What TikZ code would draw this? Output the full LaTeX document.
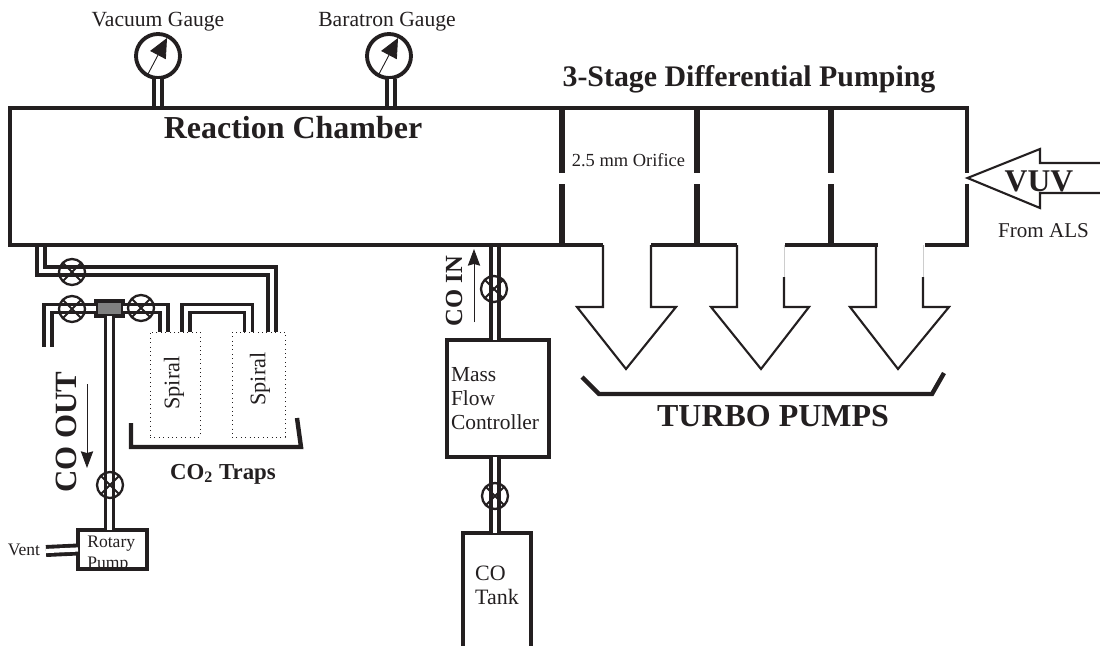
\documentclass[tikz,border=0pt]{standalone}
\usepackage{fontspec}
\setmainfont{Liberation Serif}
\usetikzlibrary{arrows.meta, positioning, calc}
\definecolor{cInk}{RGB}{35,31,32}
\definecolor{cBlock}{RGB}{128,128,128}
\definecolor{cFaint}{RGB}{205,205,205}
\tikzset{
  wall/.style={draw=cInk, line width=2.5pt},
  divider/.style={draw=cInk, line width=3.4pt},
  thinwall/.style={draw=cInk, line width=1.2pt},
  pipe/.style={draw=cInk, line width=2.2pt, double=white, double distance=2.4pt},
  %% boxes
  boxnode/.style={rectangle, draw=cInk, line width=2.5pt, inner sep=0pt, outer sep=0pt, align=left},
  spiralbox/.style={rectangle, draw=cInk, dotted, line width=0.5pt, inner sep=0pt, outer sep=0pt},
  %% valves and gauges
  valve/.style={circle, draw=cInk, line width=1.3pt, minimum size=0.52cm, inner sep=0pt, outer sep=0pt},
  gauge/.style={circle, draw=cInk, line width=2.2pt, minimum size=0.88cm, inner sep=0pt, outer sep=0pt},
  needle/.style={-{Triangle[length=11pt,width=10pt]}, draw=cInk, fill=cInk, line width=0.5pt},
  flowarrow/.style={-{Stealth[length=9.5pt,width=7pt,inset=1pt]}, draw=cInk, fill=cInk, line width=0.5pt},
  %% labels
  lbl/.style={text=cInk, font=\fontsize{12}{14}\selectfont, inner sep=0pt, align=left},
  boldlbl/.style={text=cInk, font=\fontsize{18.2}{21}\selectfont\bfseries, inner sep=0pt},
}
\begin{document}
\begin{tikzpicture}[x=0.02cm, y=-0.02cm]
\useasboundingbox (0,0) rectangle (1100,646);

%% ----- Pipes (drawn first, chamber goes over their ends) -----
\coordinate (outA) at (41,245);
\coordinate (outB) at (41,271);
\coordinate (outC) at (272,271);
\coordinate (inA)  at (495,245);

\node[spiralbox, minimum width=1cm,    minimum height=2.1cm] (spiralA) at (175,384.5) {};
\node[spiralbox, minimum width=1.06cm, minimum height=2.1cm] (spiralB) at (258.5,384.5) {};
\node[lbl, rotate=90] (spiralAtxt) at (174,383) {\fontsize{12.7}{14}\selectfont Spiral};
\node[lbl, rotate=90] (spiralBtxt) at (260,379) {\fontsize{12.7}{14}\selectfont Spiral};

\node[boxnode, fill=cBlock, minimum width=0.54cm, minimum height=0.3cm] (block) at (109.5,308.5) {};
\node[boxnode, minimum width=1.38cm, minimum height=0.78cm] (rotary) at (112.5,549.5) {};
\node[boxnode, minimum width=2.04cm, minimum height=2.34cm, text width=1.88cm,
      font=\fontsize{12.2}{13.7}\selectfont, text=cInk] (mfc) at (498,398.5) {Mass\\Flow\\Controller};

\draw[pipe] (outA) -- (outB) -- (outC) -- (272,332);
\draw[pipe] (block.west) -- (48,308.5) -- (48,347);
\draw[pipe] (block.east) -- (164,308.5) -- (164,332);
\draw[pipe] (186,332) -- (186,308.5) -- (248.5,308.5) -- (248.5,332);
\draw[pipe] (block.south) -- (rotary.north -| block.south);
\draw[pipe] (inA) -- (mfc.north -| inA);

%% ----- CO tank, open at the bottom edge -----
\coordinate (tankTop) at (495,533);
\draw[wall] (463,646) -- (463,533) -- (531,533) -- (531,646);
\draw[pipe] (mfc.south -| tankTop) -- (tankTop);
\node[lbl, font=\fontsize{12.5}{13.7}\selectfont] (tanktxt) at (497,585) {CO\\Tank};

%% ----- Rotary pump text is cut by the box -----
\begin{scope}
  \clip (rotary.north west) rectangle (rotary.south east);
  \node[lbl, font=\fontsize{10}{12}\selectfont, anchor=west] (rotarytxt) at (87,554) {Rotary\\Pump};
\end{scope}
\draw[pipe] (46,551) -- (rotary.west);
\node[lbl, font=\fontsize{10}{12}\selectfont] (vent) at (24,550) {Vent};

%% ----- Valves -----
\foreach \n/\vx/\vy in {a/72/272, b/72/309, c/141/308, d/110/485, e/494/289, f/495/496} {
  \node[valve] (valve\n) at (\vx,\vy) {};
  \draw[thinwall] (valve\n.45) -- (valve\n.225);
  \draw[thinwall] (valve\n.135) -- (valve\n.-45);
}

%% ----- Gauges -----
\foreach \n/\gx/\px/\nx in {vac/158/158/148, bar/389/391/379} {
  \node[gauge] (gauge\n) at (\gx,56) {};
  \draw[pipe] (\px,79) -- (\px,108);
  \draw[needle] (\nx,74) -- ++(19,-36);
}
\node[lbl, font=\fontsize{12.3}{14}\selectfont] (vaclbl) at (158,22) {Vacuum Gauge};
\node[lbl, font=\fontsize{12.3}{14}\selectfont] (barlbl) at (387,22) {Baratron Gauge};

%% ----- Chamber and differential stages -----
\draw[wall] (603,245) -- (10,245) -- (10,108) -- (967,108) -- (967,173);
\draw[wall] (967,184) -- (967,245) -- (925,245);
\draw[wall] (651,245) -- (737,245);
\draw[wall] (785,245) -- (878,245);
\foreach \px in {562,697,831} {
  \draw[divider] (\px,108) -- (\px,173);
  \draw[divider] (\px,184) -- (\px,245);
}
\node[boldlbl] (chamberlbl) at (293,128) {Reaction Chamber};
\node[boldlbl, font=\fontsize{17}{20}\selectfont\bfseries] (stagelbl) at (749,79) {3-Stage Differential Pumping};
\node[lbl, font=\fontsize{10.5}{12}\selectfont] (orifice) at (628.5,160) {2.5 mm Orifice};

%% ----- VUV inlet -----
\draw[thinwall] (1100,163) -- (1040,163) -- (1040,149) -- (967.5,178)
  -- (1040,208) -- (1040,193) -- (1100,193);
\node[boldlbl, font=\fontsize{18}{21}\selectfont\bfseries] (vuv) at (1039,181) {VUV};
\node[lbl] (als) at (1043.5,231) {From ALS};

%% ----- Turbo pump arrows -----
\foreach \sl/\sr/\hl/\hr/\tx/\st in {603/651/577/676/626/245, 737/784/711/809/761/277, 876/923/850/949/898/277} {
  \draw[cFaint, line width=0.5pt] (\sr,245) -- (\sr,\st);
  \draw[thinwall] (\sl,245) -- (\sl,307) -- (\hl,307) -- (\tx,369)
    -- (\hr,307) -- (\sr,307) -- (\sr,\st);
}
\draw[wall] (582,377) -- (599,394) -- (932,394) -- (944,373);
\node[boldlbl] (turbolbl) at (773,416) {TURBO PUMPS};

%% ----- Traps -----
\draw[wall] (131,423) -- (131,447) -- (301,447) -- (297,418);
\node[lbl, font=\fontsize{13}{14}\selectfont\bfseries] (traps) at (223,474) {CO\textsubscript{2} Traps};

%% ----- Flow direction -----
\node[boldlbl, font=\fontsize{17.6}{20}\selectfont\bfseries, rotate=90] (colout) at (66,432) {CO OUT};
\draw[flowarrow] (87,384) -- (87,468);
\node[lbl, font=\fontsize{14}{16}\selectfont\bfseries, rotate=90] (colin) at (454,291) {CO IN};
\draw[flowarrow] (474,322) -- (474,249);

\end{tikzpicture}
\end{document}
